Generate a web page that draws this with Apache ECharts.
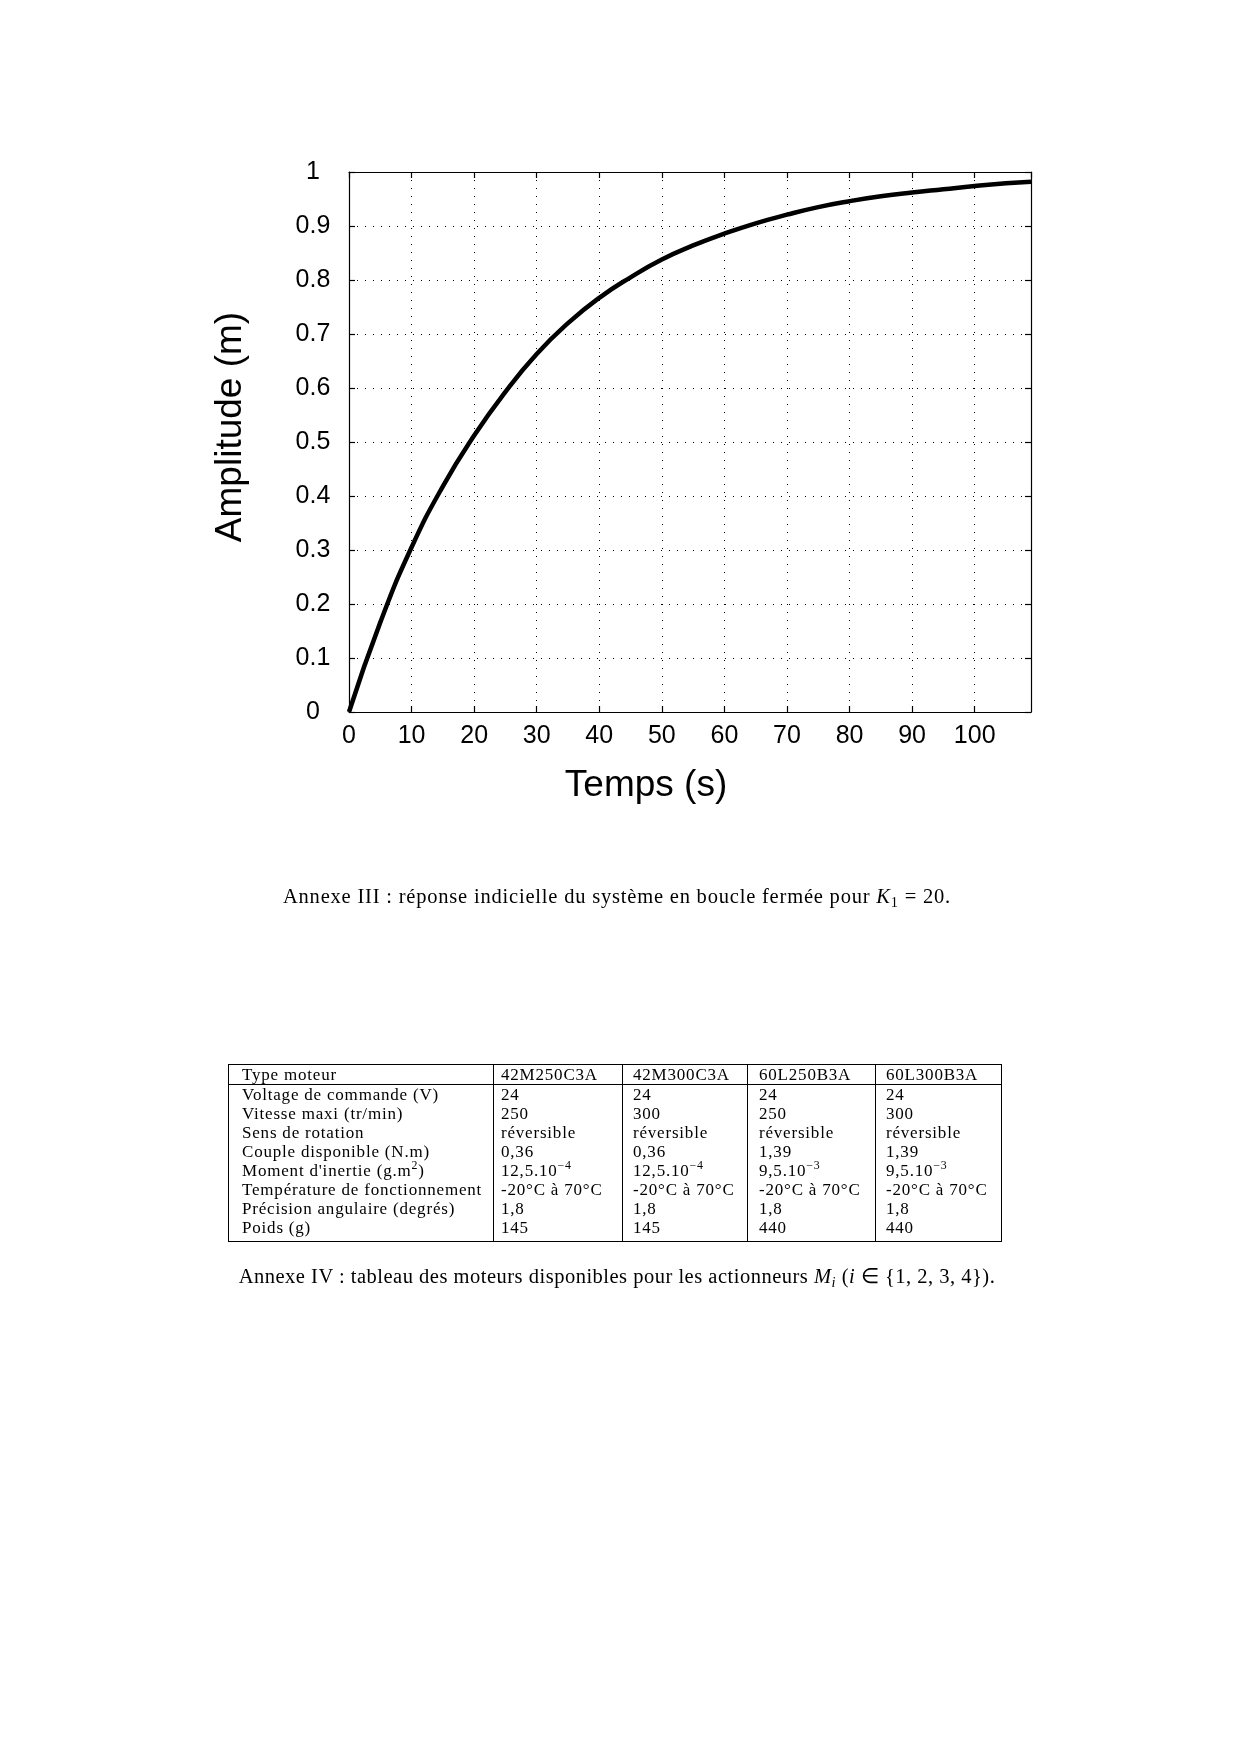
<!DOCTYPE html>
<html>
<head>
<meta charset="utf-8">
<script src="https://cdn.jsdelivr.net/npm/echarts@6/dist/echarts.min.js"></script>
<style>
html, body { margin: 0; padding: 0; background: #fff; }
#chart { position: absolute; left: 0; top: 0; width: 1240px; height: 1752px; }
.cap { position: absolute; left: -3px; width: 1240px; text-align: center; font-family: "Liberation Serif", serif; color: #000; white-space: nowrap; line-height: 22px; }
.cap sub { font-size: 0.7em; line-height: 0; vertical-align: -0.25em; }
#motors { position: absolute; left: 228px; top: 1064px; border-collapse: collapse; table-layout: fixed; font-family: "Liberation Serif", serif; font-size: 17px; letter-spacing: 0.8px; color: #000; border: 1.3px solid #000; }
#motors td { padding: 0 0 0 9px; height: 19px; line-height: 19px; white-space: nowrap; border-left: 1.3px solid #000; border-right: 1.3px solid #000; overflow: hidden; }
#motors tr.head td { border-bottom: 1.3px solid #000; }
#motors tr.last td { height: 23px; line-height: 19px; vertical-align: top; }
#motors sup { font-size: 0.7em; line-height: 0; }
</style>
</head>
<body>
<div id="chart"></div>
<div class="cap" id="cap1" style="top:885px;font-size:20.5px;letter-spacing:0.8px;"></div>
<table id="motors"></table>
<div class="cap" id="cap2" style="top:1265px;font-size:20.5px;letter-spacing:0.5px;"></div>
<script>
// ---- Chart data ----
const timeS = [0, 5, 10, 15, 20, 25, 30, 35, 40, 45, 50, 55, 60, 65, 70, 75, 80, 85, 90, 95, 100, 105, 109];
const amplitudeM = [0, 0.166, 0.305, 0.418, 0.512, 0.593, 0.663, 0.720, 0.767, 0.805, 0.838, 0.864, 0.886, 0.905, 0.921, 0.935, 0.946, 0.955, 0.962, 0.968, 0.974, 0.979, 0.982];

// ---- Table data ----
const tableHeader = ['Type moteur', '42M250C3A', '42M300C3A', '60L250B3A', '60L300B3A'];
const rowLabels = ['Voltage de commande (V)', 'Vitesse maxi (tr/min)', 'Sens de rotation', 'Couple disponible (N.m)',
  "Moment d'inertie (g.m<sup>2</sup>)", 'Température de fonctionnement', 'Précision angulaire (degrés)', 'Poids (g)'];
const motor42M250 = ['24', '250', 'réversible', '0,36', '12,5.10<sup>−4</sup>', '-20°C à 70°C', '1,8', '145'];
const motor42M300 = ['24', '300', 'réversible', '0,36', '12,5.10<sup>−4</sup>', '-20°C à 70°C', '1,8', '145'];
const motor60L250 = ['24', '250', 'réversible', '1,39', '9,5.10<sup>−3</sup>', '-20°C à 70°C', '1,8', '440'];
const motor60L300 = ['24', '300', 'réversible', '1,39', '9,5.10<sup>−3</sup>', '-20°C à 70°C', '1,8', '440'];
const colWidths = [265, 129, 125, 128, 126];
const colPad = [13, 7, 10, 11, 10];

const caption1 = 'Annexe III : réponse indicielle du système en boucle fermée pour <i>K</i><sub>1</sub> = 20.';
const caption2 = 'Annexe IV : tableau des moteurs disponibles pour les actionneurs <i>M<sub>i</sub></i> (<i>i</i> ∈ {1, 2, 3, 4}).';

document.getElementById('cap1').innerHTML = caption1;
document.getElementById('cap2').innerHTML = caption2;

// build table
(function () {
  const tbl = document.getElementById('motors');
  const cg = document.createElement('colgroup');
  colWidths.forEach(w => { const c = document.createElement('col'); c.style.width = w + 'px'; cg.appendChild(c); });
  tbl.appendChild(cg);
  const mk = (cells, cls) => {
    const tr = document.createElement('tr');
    if (cls) tr.className = cls;
    cells.forEach((v, i) => { const td = document.createElement('td'); td.innerHTML = v; td.style.paddingLeft = colPad[i] + 'px'; tr.appendChild(td); });
    tbl.appendChild(tr);
  };
  mk(tableHeader, 'head');
  rowLabels.forEach((lab, r) => {
    mk([lab, motor42M250[r], motor42M300[r], motor60L250[r], motor60L300[r]], r === rowLabels.length - 1 ? 'last' : '');
  });
})();

// ---- Chart ----
const chart = echarts.init(document.getElementById('chart'), null, { renderer: 'canvas' });
const sans = '"Liberation Sans", Arial, Helvetica, sans-serif';
const frameLine = { show: true, onZero: false, lineStyle: { color: '#000', width: 1.2 } };
const innerTick = { show: true, inside: true, length: 6, lineStyle: { color: '#000', width: 1.2 } };
const dotted = { show: true, lineStyle: { color: '#000', width: 1, type: [1, 7] } };

chart.setOption({
  animation: false,
  backgroundColor: '#fff',
  grid: { left: 349, top: 172, width: 682, height: 540 },
  xAxis: [
    {
      type: 'value', min: 0, max: 109, interval: 10, position: 'bottom',
      axisLine: frameLine, axisTick: innerTick, splitLine: dotted,
      axisLabel: { showMaxLabel: false, margin: 12, fontSize: 25, fontFamily: sans, color: '#000' },
      name: 'Temps (s)', nameLocation: 'middle', nameGap: 55,
      nameTextStyle: { fontSize: 37, fontFamily: sans, color: '#000', padding: [0, 88, 0, 0] }
    },
    {
      type: 'value', min: 0, max: 109, interval: 10, position: 'top',
      axisLine: frameLine, axisTick: innerTick, splitLine: { show: false }, axisLabel: { show: false }
    }
  ],
  yAxis: [
    {
      type: 'value', min: 0, max: 1, interval: 0.1, position: 'left',
      axisLine: frameLine, axisTick: innerTick, splitLine: dotted,
      axisLabel: { margin: 36, align: 'center', fontSize: 25, fontFamily: sans, color: '#000', padding: [0, 0, 7, 0] },
      name: 'Amplitude (m)', nameLocation: 'middle', nameGap: 100,
      nameTextStyle: { fontSize: 37, fontFamily: sans, color: '#000', padding: [0, 0, 0, 30] }
    },
    {
      type: 'value', min: 0, max: 1, interval: 0.1, position: 'right',
      axisLine: frameLine, axisTick: innerTick, splitLine: { show: false }, axisLabel: { show: false }
    }
  ],
  series: [
    {
      type: 'line', xAxisIndex: 0, yAxisIndex: 0,
      data: timeS.map((t, i) => [t, amplitudeM[i]]),
      smooth: 0.5, showSymbol: false,
      lineStyle: { color: '#000', width: 4.5 }
    }
  ]
});
</script>
</body>
</html>
